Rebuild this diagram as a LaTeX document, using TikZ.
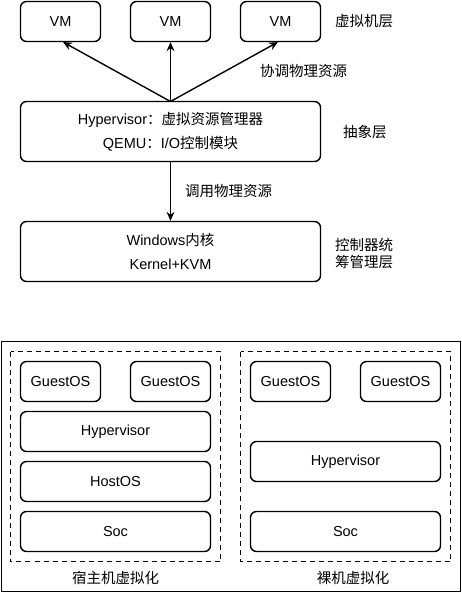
\documentclass[tikz,border=0pt]{standalone}
\usepackage{fontspec}
\setmainfont{Liberation Sans}
\newfontfamily\cjk{Noto Sans CJK SC}
\usetikzlibrary{arrows.meta}
\begin{document}
\begin{tikzpicture}[x=1pt,y=-1pt,
  font=\fontsize{14.5}{24}\selectfont,
  box/.style={draw, line width=1.4pt, rounded corners=6pt, inner sep=0pt, align=center},
  dbox/.style={draw, line width=1.6pt, dash pattern=on 5pt off 4pt},
  arr/.style={line width=1.4pt, -{Stealth[length=9pt,width=8pt,inset=3pt]}},
  lbl/.style={inner sep=0pt, align=left, font=\fontsize{14.5}{17}\selectfont\cjk}]
\useasboundingbox (0,0) rectangle (461,592);
% top section
\node[box, minimum width=80pt, minimum height=40pt] (vm1) at (60.5,21.5) {VM};
\node[box, minimum width=80pt, minimum height=40pt] (vm2) at (170.5,21.5) {VM};
\node[box, minimum width=80pt, minimum height=40pt] (vm3) at (280.5,21.5) {VM};
\node[lbl, anchor=west] (l1) at (335,21) {虚拟机层};
\node[box, minimum width=300pt, minimum height=60pt] (hyp) at (170.5,131.5)
  {Hypervisor{\cjk ：虚拟资源管理器}\\QEMU{\cjk ：}I/O{\cjk 控制模块}};
\node[lbl, anchor=west] (l2) at (343,132) {抽象层};
\node[box, minimum width=300pt, minimum height=60pt] (win) at (170.5,251.5)
  {Windows{\cjk 内核}\\Kernel+KVM};
\node[lbl, anchor=west] (l3) at (335,253.5) {控制器统\\筹管理层};
\coordinate (src) at (170.5,101.5);
\coordinate (t1) at (63,42);
\coordinate (t3) at (278,42);
\draw[arr] (src) -- (t1);
\draw[arr] (src) -- (vm2.south);
\draw[arr] (src) -- (t3);
\node[lbl, anchor=west] (l4) at (260,71) {协调物理资源};
\draw[arr] (hyp.south) -- (win.north);
\node[lbl, anchor=west] (l5) at (185,191) {调用物理资源};
% bottom section
\draw[line width=0.9pt] (1,341) rectangle (460,591);
\draw[dbox] (10.5,351.5) rectangle (220.5,561.5);
\draw[dbox] (240.5,351.5) rectangle (450.5,561.5);
\node[box, minimum width=80pt, minimum height=40pt] (g1) at (60.5,381.5) {GuestOS};
\node[box, minimum width=80pt, minimum height=40pt] (g2) at (170.5,381.5) {GuestOS};
\node[box, minimum width=190pt, minimum height=40pt] (h1) at (115.5,431.5) {Hypervisor};
\node[box, minimum width=190pt, minimum height=40pt] (ho) at (115.5,481.5) {HostOS};
\node[box, minimum width=190pt, minimum height=40pt] (s1) at (115.5,531.5) {Soc};
\node[box, minimum width=80pt, minimum height=40pt] (g3) at (290.5,381.5) {GuestOS};
\node[box, minimum width=80pt, minimum height=40pt] (g4) at (400.5,381.5) {GuestOS};
\node[box, minimum width=190pt, minimum height=40pt] (h2) at (345.5,461.5) {Hypervisor};
\node[box, minimum width=190pt, minimum height=40pt] (s2) at (345.5,531.5) {Soc};
\node[lbl] (c1) at (115.5,578) {宿主机虚拟化};
\node[lbl] (c2) at (353,578) {裸机虚拟化};
\end{tikzpicture}
\end{document}
